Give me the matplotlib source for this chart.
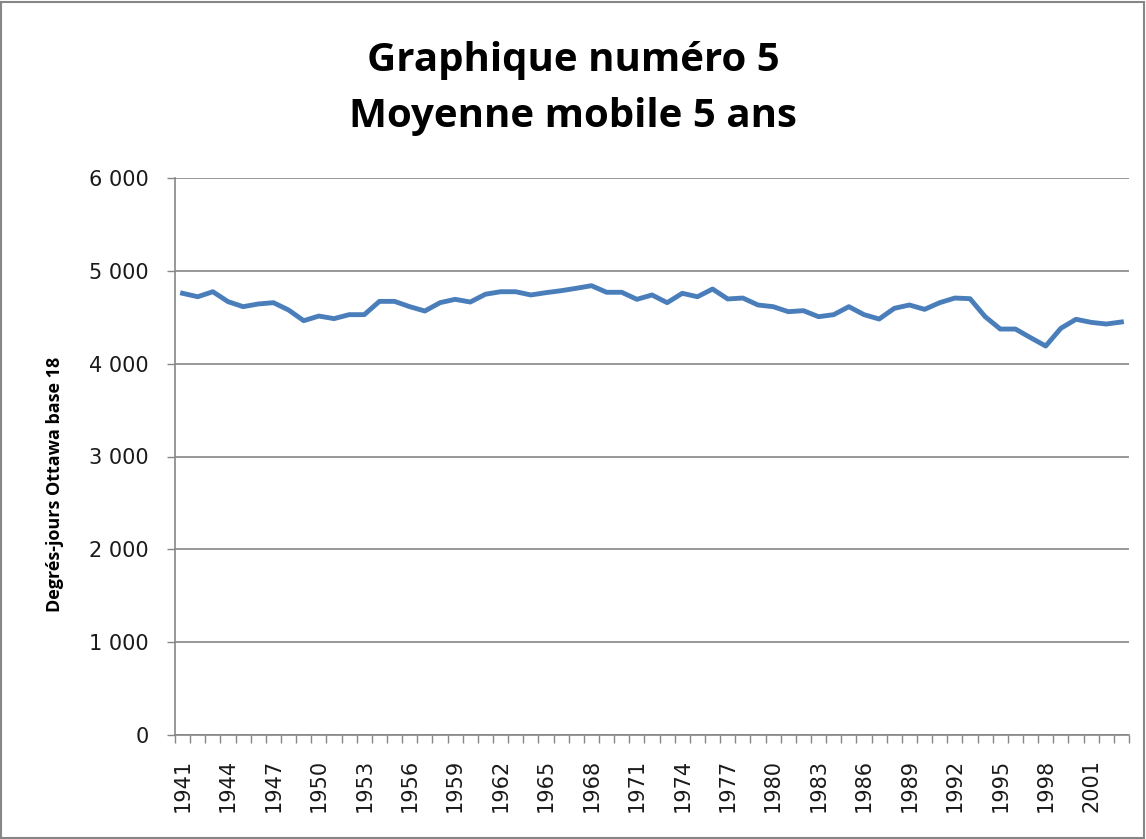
import matplotlib.pyplot as plt
from matplotlib.patches import Rectangle
from matplotlib.ticker import FuncFormatter, FixedLocator

years = list(range(1941, 2004))
degree_days = [4758, 4721, 4775, 4668, 4614, 4643, 4657, 4578, 4463, 4513,
               4485, 4528, 4528, 4671, 4671, 4614, 4567, 4657, 4693, 4664,
               4748, 4775, 4775, 4740, 4765, 4786, 4812, 4840, 4769, 4769,
               4693, 4740, 4657, 4758, 4721, 4804, 4697, 4707, 4632, 4614,
               4560, 4571, 4506, 4528, 4614, 4528, 4481, 4596, 4632, 4585,
               4657, 4707, 4700, 4506, 4373, 4373, 4280, 4190, 4381, 4478,
               4445, 4427, 4449]
y_ticks = [0, 1000, 2000, 3000, 4000, 5000, 6000]

W, H = 1146, 839
fig = plt.figure(figsize=(W / 100, H / 100), dpi=100)
ax = fig.add_axes([175 / W, 1 - 735 / H, (1129 - 175) / W, (735 - 178) / H])

grey = '#868686'
x = list(range(len(years)))
ax.plot(x, degree_days, color='#4a7ebb', lw=3.5, solid_joinstyle='round')

ax.set_xlim(-0.5, len(years) - 0.5)
ax.set_ylim(0, 6000)

# y axis
ax.set_yticks(y_ticks)
ax.yaxis.set_major_formatter(FuncFormatter(lambda v, p: f'{int(v):,}'.replace(',', ' ')))
ax.grid(axis='y', color=grey, lw=1.2)
ax.set_axisbelow(True)
ax.tick_params(axis='y', direction='out', length=6, width=1, color=grey,
               labelsize=15, labelcolor='#1a1a1a', pad=13)

# x axis: labels every 3 years, tick marks between categories
label_pos = x[::3]
ax.xaxis.set_major_locator(FixedLocator(label_pos))
ax.set_xticklabels([str(years[i]) for i in label_pos], rotation=90)
ax.xaxis.set_minor_locator(FixedLocator([i - 0.5 for i in range(len(years) + 1)]))
ax.tick_params(axis='x', which='major', length=0, labelsize=15,
               labelcolor='#1a1a1a', pad=17)
ax.tick_params(axis='x', which='minor', direction='out', length=6, width=1, color=grey)

for s in ['top', 'right']:
    ax.spines[s].set_visible(False)
for s in ['left', 'bottom']:
    ax.spines[s].set_color(grey)
    ax.spines[s].set_linewidth(1.2)

fig.text(55 / W, 1 - 484 / H, 'Degrés-jours Ottawa base 18', rotation=90,
         ha='center', va='center', fontsize=13, fontweight='bold', family='Open Sans')

fig.text(0.5, 1 - 60 / H, 'Graphique numéro 5', ha='center', va='center',
         fontsize=29, fontweight='bold', family='Open Sans')
fig.text(0.5, 1 - 117 / H, 'Moyenne mobile 5 ans', ha='center', va='center',
         fontsize=29, fontweight='bold', family='Open Sans')

fig.patches.append(Rectangle((1 / W, 1 / H), 1 - 3 / W, 1 - 3 / H, transform=fig.transFigure,
                             fill=False, edgecolor=grey, lw=1.5))

fig.savefig('out.png', dpi=100)
